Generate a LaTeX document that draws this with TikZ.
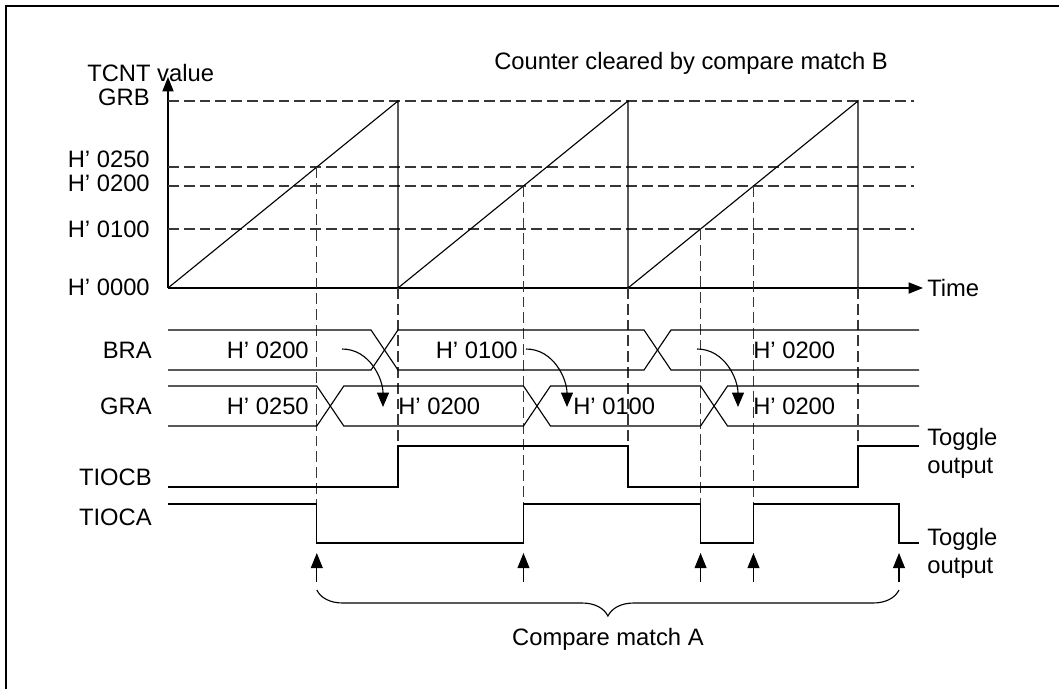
\documentclass[tikz,border=0pt]{standalone}
\usepackage{fontspec}
\setmainfont{Liberation Sans}
\usetikzlibrary{arrows.meta, decorations.pathreplacing}
\definecolor{waveblack}{RGB}{0, 0, 0}
\definecolor{guidegray}{RGB}{55, 55, 55}
\tikzset{
    valtext/.style={font=\fontsize{16.9}{19.9}\selectfont, inner sep=0pt},
    wave/.style={line width=0.8pt, draw=waveblack},
    guide/.style={line width=0.75pt, draw=guidegray, dash pattern=on 0.27cm off 0.125cm},
    axisarrow/.style={-{Triangle[length=0.36cm, width=0.28cm]}, line width=0.8pt},
    matcharrow/.style={-{Triangle[length=0.38cm, width=0.3cm]}, line width=0.8pt},
    busarrow/.style={-{Triangle[length=0.36cm, width=0.3cm]}, line width=0.8pt},
}

\begin{document}
\begin{tikzpicture}[every node/.style={valtext}]
                \useasboundingbox (-4.2,-10.025) rectangle (22.275,7.2);
                % Frame
                \draw[line width=1pt] (-4.05,-10.025) -- (-4.05,7.05) -- (22.275,7.05);

                % Axes and titles
                \draw[axisarrow] (0,0) -- (0,5.275);
                \draw[axisarrow] (0,0) -- (18.875,0);
                \node[anchor=west] (time) at (18.975,0) {Time};
                \node[anchor=west] (tcnt) at (-2.025,5.375) {TCNT value};
                \node[anchor=west] (clearb) at (8.15,5.625) {Counter cleared by compare match B};

                % Value levels
                \node[anchor=east] (grb) at (-0.45,4.775) {GRB};
                \node[anchor=east] (h250) at (-0.45,3.225) {H' 0250};
                \node[anchor=east] (h200) at (-0.45,2.625) {H' 0200};
                \node[anchor=east] (h100) at (-0.45,1.475) {H' 0100};
                \node[anchor=east] (h000) at (-0.45,0.025) {H' 0000};
                \draw[guide] (0,4.675) -- (18.65,4.675);
                \draw[guide] (0,3.025) -- (18.65,3.025);
                \draw[guide] (0,2.55) -- (18.65,2.55);
                \draw[guide] (0,1.475) -- (18.65,1.475);

                % TCNT sawtooth
                \draw[wave] (0,0) -- (5.75,4.675) -- (5.75,0) -- (11.5,4.675) -- (11.5,0)
                      -- (17.25,4.675) -- (17.25,0);

                % Compare match lines
                \draw[guide] (3.72,3.025) -- (3.72,-5.4);
                \draw[guide] (8.887,2.55) -- (8.887,-5.4);
                \draw[guide] (13.314,1.475) -- (13.314,-5.4);
                \draw[guide] (14.637,2.55) -- (14.637,-5.4);
                \draw[guide] (5.75,0) -- (5.75,-3.95);
                \draw[guide] (11.5,0) -- (11.5,-3.95);
                \draw[guide] (17.25,0) -- (17.25,-3.95);

                % Signal names
                \node[anchor=east] (bra) at (-0.4,-1.55) {BRA};
                \node[anchor=east] (gra) at (-0.4,-2.95) {GRA};
                \node[anchor=east] (tiocb) at (-0.4,-4.725) {TIOCB};
                \node[anchor=east] (tioca) at (-0.4,-5.725) {TIOCA};

                % BRA bus
                \draw[wave] (0,-1.05) -- (5.075,-1.05) -- (5.75,-2.05) -- (11.9,-2.05)
                      -- (12.575,-1.05) -- (18.775,-1.05);
                \draw[wave] (0,-2.05) -- (5.075,-2.05) -- (5.75,-1.05) -- (11.9,-1.05)
                      -- (12.575,-2.05) -- (18.775,-2.05);
                \node[anchor=east] (bra1) at (3.525,-1.55) {H' 0200};
                \node[anchor=east] (bra2) at (8.75,-1.55) {H' 0100};
                \node[anchor=west] (bra3) at (14.625,-1.55) {H' 0200};

                % GRA bus
                \draw[wave] (0,-2.45) -- (3.72,-2.45) -- (4.395,-3.45) -- (8.887,-3.45)
                      -- (9.562,-2.45) -- (13.314,-2.45) -- (13.989,-3.45) -- (18.775,-3.45);
                \draw[wave] (0,-3.45) -- (3.72,-3.45) -- (4.395,-2.45) -- (8.887,-2.45)
                      -- (9.562,-3.45) -- (13.314,-3.45) -- (13.989,-2.45) -- (18.775,-2.45);
                \node[anchor=east] (gra1) at (3.525,-2.95) {H' 0250};
                \node[anchor=west] (gra2) at (5.75,-2.95) {H' 0200};
                \node[anchor=west] (gra3) at (10.125,-2.95) {H' 0100};
                \node[anchor=west] (gra4) at (14.625,-2.95) {H' 0200};

                % Transfer BRA -> GRA
                \draw[busarrow] (4.35,-1.525) to[out=0, in=90] (5.375,-2.975);
                \draw[busarrow] (8.95,-1.525) to[out=0, in=90] (9.975,-2.975);
                \draw[busarrow] (13.225,-1.525) to[out=0, in=90] (14.25,-2.975);

                % TIOCB
                \draw[wave] (0,-4.975) -- (5.75,-4.975) -- (5.75,-3.95) -- (11.5,-3.95)
                      -- (11.5,-4.975) -- (17.25,-4.975) -- (17.25,-3.95) -- (18.775,-3.95);
                \node[anchor=west, align=left] (toggleb) at (18.975,-4.125) {Toggle\\output};

                % TIOCA
                \draw[wave] (0,-5.4) -- (3.72,-5.4) -- (3.72,-6.375) -- (8.887,-6.375)
                      -- (8.887,-5.4) -- (13.314,-5.4) -- (13.314,-6.375) -- (14.637,-6.375)
                      -- (14.637,-5.4) -- (18.275,-5.4) -- (18.275,-6.375) -- (18.775,-6.375);
                \node[anchor=west, align=left] (togglea) at (18.975,-6.625) {Toggle\\output};

                % Compare match A
                \draw[matcharrow] (3.72,-7.35) -- (3.72,-6.625);
                \draw[matcharrow] (8.887,-7.35) -- (8.887,-6.625);
                \draw[matcharrow] (13.314,-7.35) -- (13.314,-6.625);
                \draw[matcharrow] (14.637,-7.35) -- (14.637,-6.625);
                \draw[matcharrow] (18.275,-7.35) -- (18.275,-6.625);
                \draw[line width=0.8pt, decorate, decoration={brace, amplitude=0.65cm, mirror}]
                      (3.72,-7.55) -- (18.275,-7.55) node[midway, below=0.95cm] (matcha) {Compare match A};
\end{tikzpicture}
\end{document}
